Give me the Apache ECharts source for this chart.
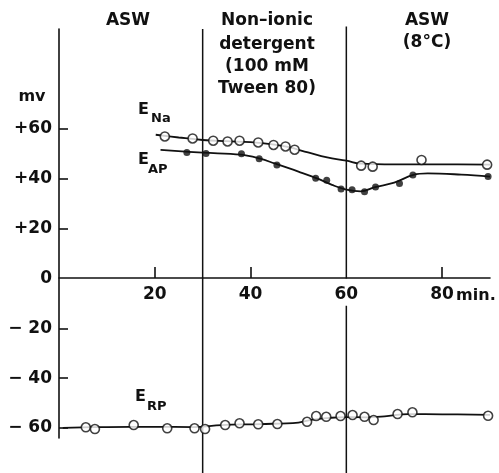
<!DOCTYPE html>
<html>
<head>
<meta charset="utf-8">
<script src="https://cdn.jsdelivr.net/npm/echarts@6.0.0/dist/echarts.min.js"></script>
<style>
  html, body { margin: 0; padding: 0; background: #fff; }
  #chart { width: 499px; height: 473px; }
</style>
</head>
<body>
<div id="chart"></div>
<script>
// measured points (time in min, potential in mV)
var naTime = [22.1, 27.9, 32.2, 35.2, 37.7, 41.6, 44.8, 47.3, 49.2, 63.1, 65.5, 75.7, 89.4];
var naMv   = [56.9, 56.1, 55.2, 54.9, 55.2, 54.5, 53.5, 52.9, 51.6, 45.2, 44.8, 47.5, 45.6];

var apTime = [26.7, 30.7, 38.1, 41.8, 45.5, 53.6, 55.9, 58.9, 61.2, 63.8, 66.1, 71.1, 73.9, 89.6];
var apMv   = [50.5, 50.1, 50.0, 48.0, 45.5, 40.2, 39.4, 35.8, 35.5, 34.7, 36.6, 38.0, 41.5, 40.9];

var rpTime = [5.6, 7.5, 15.6, 22.6, 28.3, 30.5, 34.7, 37.7, 41.6, 45.6, 51.8, 53.7, 55.8, 58.8, 61.3, 63.8, 65.7, 70.7, 73.8, 89.6];
var rpMv   = [-59.7, -60.4, -58.8, -60.1, -60.1, -60.4, -58.8, -58.1, -58.5, -58.4, -57.5, -55.2, -55.5, -55.2, -54.8, -55.5, -56.8, -54.4, -53.7, -55.1];

// hand drawn curves
var naCurveT = [20.2, 25, 30, 35, 40, 45, 48, 52, 56, 60, 63, 70, 80, 90];
var naCurveV = [57.6, 56.5, 55.5, 55.0, 54.6, 53.6, 52.6, 50.5, 48.5, 47.2, 46.0, 45.7, 45.7, 45.6];

var apCurveT = [21.2, 30, 38, 42, 45, 50, 54, 57, 60, 63, 66, 70, 74, 77, 84, 90];
var apCurveV = [51.5, 50.4, 49.6, 48.0, 46.1, 42.8, 40.0, 37.5, 35.6, 34.9, 36.6, 38.4, 41.5, 42.1, 41.6, 40.8];

var rpCurveT = [0.8, 10, 20, 28, 34, 42, 50, 53, 56, 60, 64, 68, 73, 80, 90];
var rpCurveV = [-59.9, -59.6, -59.5, -59.6, -58.8, -58.4, -57.8, -56.6, -56.0, -55.6, -55.7, -55.3, -54.4, -54.5, -54.7];

// solution changes
var switchTimes = [30, 60];
var yTicks = [-60, -40, -20, 0, 20, 40, 60];
var xTicks = [20, 40, 60, 80];

var FONT = '"DejaVu Sans", sans-serif';
var INK = '#111';

function pairs(xs, ys) {
  return xs.map(function (x, i) { return [x, ys[i]]; });
}

var chart = echarts.init(document.getElementById('chart'));

function curve(name, xs, ys) {
  return {
    name: name, type: 'line', smooth: 0.4, symbol: 'none',
    data: pairs(xs, ys), z: 3,
    lineStyle: { color: INK, width: 1.8 }
  };
}

function marks(name, xs, ys, filled) {
  return {
    name: name, type: 'scatter', data: pairs(xs, ys), z: 5,
    symbol: 'circle', symbolSize: filled ? 7 : 9,
    itemStyle: filled
      ? { color: INK, borderWidth: 0 }
      : { color: '#fff', borderColor: INK, borderWidth: 1.6 }
  };
}

function vline(points) {
  return {
    type: 'line', symbol: 'none', clip: false, z: 2, silent: true,
    data: points, connectNulls: false,
    lineStyle: { color: INK, width: 1.5 }
  };
}

var option = {
  animation: false,
  backgroundColor: '#fff',
  textStyle: { fontFamily: FONT },
  grid: { left: 59, right: 9, top: 29, bottom: 35 },
  xAxis: {
    type: 'value', min: 0, max: 90, interval: 20,
    // the time axis sits on 0 mV: bottom of grid is -64, so shift up by 64 mV worth of pixels
    offset: -160,
    axisLine: { onZero: false, lineStyle: { color: INK, width: 1.6 } },
    axisTick: { inside: true, length: 11, customValues: [20, 40, 80], lineStyle: { color: INK, width: 1.6 } },
    axisLabel: {
      customValues: xTicks, color: INK, fontSize: 17, margin: 8, fontFamily: FONT, fontWeight: 'bold',
      formatter: function (v) { return String(v); }
    },
    splitLine: { show: false }
  },
  yAxis: {
    type: 'value', min: -64, max: 100,
    axisLine: { lineStyle: { color: INK, width: 1.6 } },
    axisTick: { inside: true, length: 9, customValues: [-60, -40, -20, 20, 40, 60], lineStyle: { color: INK, width: 1.6 } },
    axisLabel: {
      customValues: yTicks, color: INK, fontSize: 17, margin: 7, fontFamily: FONT, fontWeight: 'bold',
      formatter: function (v) {
        if (v > 0) return '+' + v;
        if (v < 0) return '\u2212 ' + (-v);
        return '0';
      }
    },
    splitLine: { show: false }
  },
  series: [
    vline([[switchTimes[0], 100], [switchTimes[0], -79]]),
    vline([[switchTimes[1], 101], [switchTimes[1], 0], [switchTimes[1], '-'], [switchTimes[1], -11], [switchTimes[1], -79]]),
    curve('E_Na fit', naCurveT, naCurveV),
    curve('E_AP fit', apCurveT, apCurveV),
    curve('E_RP fit', rpCurveT, rpCurveV),
    marks('E_Na', naTime, naMv, false),
    marks('E_AP', apTime, apMv, true),
    marks('E_RP', rpTime, rpMv, false)
  ]
};

chart.setOption(option);

// annotations: headings over each period, units and curve names
function txt(x, y, s, size, align) {
  return {
    type: 'text', x: x, y: y, silent: true,
    style: {
      text: s, fill: INK, font: 'bold ' + (size || 17) + 'px ' + FONT,
      align: align || 'center', verticalAlign: 'middle'
    }
  };
}

var p80 = chart.convertToPixel({ gridIndex: 0 }, [80, 0]);

chart.setOption({
  graphic: [
    txt(128, 21, 'ASW', 17),
    txt(267, 21, 'Non\u2013ionic', 17),
    txt(267, 45, 'detergent', 17),
    txt(267, 67, '(100 mM', 17),
    txt(267, 89, 'Tween 80)', 17),
    txt(427, 21, 'ASW', 17),
    txt(427, 43, '(8\u00b0C)', 17),
    txt(32, 97, 'mv', 16),
    txt(p80[0] + 14, p80[1] + 17, 'min.', 16, 'left'),
    txt(138, 110, 'E', 16, 'left'),
    txt(151, 119, 'Na', 13, 'left'),
    txt(138, 160, 'E', 16, 'left'),
    txt(148, 170, 'AP', 13, 'left'),
    txt(135, 397, 'E', 16, 'left'),
    txt(147, 407, 'RP', 13, 'left')
  ]
});
</script>
</body>
</html>
